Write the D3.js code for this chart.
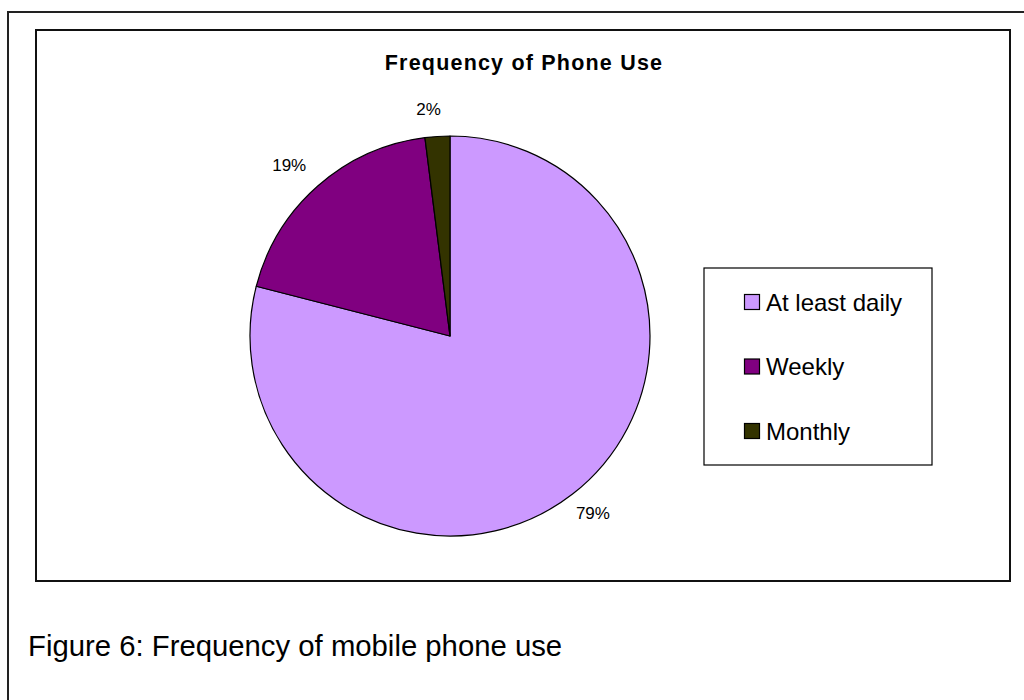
<!DOCTYPE html>
<html>
<head>
<meta charset="utf-8">
<script src="https://cdn.jsdelivr.net/npm/d3@7/dist/d3.min.js"></script>
<style>
  html, body { margin: 0; padding: 0; background: #fff; }
  svg { display: block; }
</style>
</head>
<body>
<svg id="chart" width="1024" height="700"></svg>
<script>
// Survey answers: how often respondents use a mobile phone
const categories = ["At least daily", "Weekly", "Monthly"];
const shares = [79, 19, 2];
const sliceColors = ["#CC99FF", "#800080", "#333300"];
const chartTitle = "Frequency of Phone Use";
const caption = "Figure 6: Frequency of mobile phone use";

const svg = d3.select("#chart");

// Outer figure frame (runs past the right and bottom edges of the page)
svg.append("rect")
  .attr("x", 8).attr("y", 12)
  .attr("width", 1040).attr("height", 720)
  .attr("fill", "none").attr("stroke", "#222").attr("stroke-width", 2);

// Chart area frame
svg.append("rect")
  .attr("x", 36).attr("y", 30)
  .attr("width", 974).attr("height", 551)
  .attr("fill", "#fff").attr("stroke", "#111").attr("stroke-width", 2);

svg.append("text")
  .attr("x", 524).attr("y", 70)
  .attr("text-anchor", "middle")
  .attr("font-family", "Liberation Sans, Arial, sans-serif")
  .attr("font-weight", "bold")
  .attr("font-size", 21.5)
  .attr("letter-spacing", 1.2)
  .attr("fill", "#000")
  .text(chartTitle);

const data = categories.map((c, i) => ({ name: c, value: shares[i], color: sliceColors[i] }));

const cx = 450, cy = 336, radius = 200;
const pie = d3.pie().value(d => d.value).sort(null);
const arc = d3.arc().innerRadius(0).outerRadius(radius);
const labelArc = d3.arc().innerRadius(225).outerRadius(225);

const g = svg.append("g").attr("transform", `translate(${cx},${cy})`);
const arcs = pie(data);

g.selectAll("path.slice")
  .data(arcs)
  .join("path")
  .attr("class", "slice")
  .attr("d", arc)
  .attr("fill", d => d.data.color)
  .attr("stroke", "#000")
  .attr("stroke-width", 1.2)
  .attr("stroke-linejoin", "round");

// Percent labels sit outside the rim, aligned away from the pie
const onLeft = d => (d.startAngle + d.endAngle) / 2 > Math.PI;
g.selectAll("text.pct")
  .data(arcs)
  .join("text")
  .attr("class", "pct")
  .attr("transform", d => {
    const [x, y] = labelArc.centroid(d);
    return `translate(${x + (onLeft(d) ? 5 : -12)},${y - (onLeft(d) ? 2 : 0)})`;
  })
  .attr("text-anchor", d => onLeft(d) ? "end" : "start")
  .attr("dominant-baseline", "central")
  .attr("font-family", "Liberation Sans, Arial, sans-serif")
  .attr("font-size", 17)
  .attr("fill", "#000")
  .text(d => d.data.value + "%");

// Legend
const legend = svg.append("g");
legend.append("rect")
  .attr("x", 704).attr("y", 268)
  .attr("width", 228).attr("height", 197)
  .attr("fill", "#fff").attr("stroke", "#000").attr("stroke-width", 1.2);

const rowY = d3.scalePoint().domain(categories).range([302, 431]);

const items = legend.selectAll("g.item")
  .data(data)
  .join("g")
  .attr("class", "item")
  .attr("transform", d => `translate(744,${rowY(d.name)})`);

items.append("rect")
  .attr("x", 0.5).attr("y", -7.5)
  .attr("width", 15).attr("height", 15)
  .attr("fill", d => d.color)
  .attr("stroke", "#000").attr("stroke-width", 1.2);

items.append("text")
  .attr("x", 22).attr("y", 0)
  .attr("dominant-baseline", "central")
  .attr("font-family", "Liberation Sans, Arial, sans-serif")
  .attr("font-size", 24)
  .attr("fill", "#000")
  .text(d => d.name);

svg.append("text")
  .attr("x", 28).attr("y", 656)
  .attr("font-family", "Liberation Sans, Arial, sans-serif")
  .attr("font-size", 29.3)
  .attr("fill", "#000")
  .text(caption);
</script>
</body>
</html>
